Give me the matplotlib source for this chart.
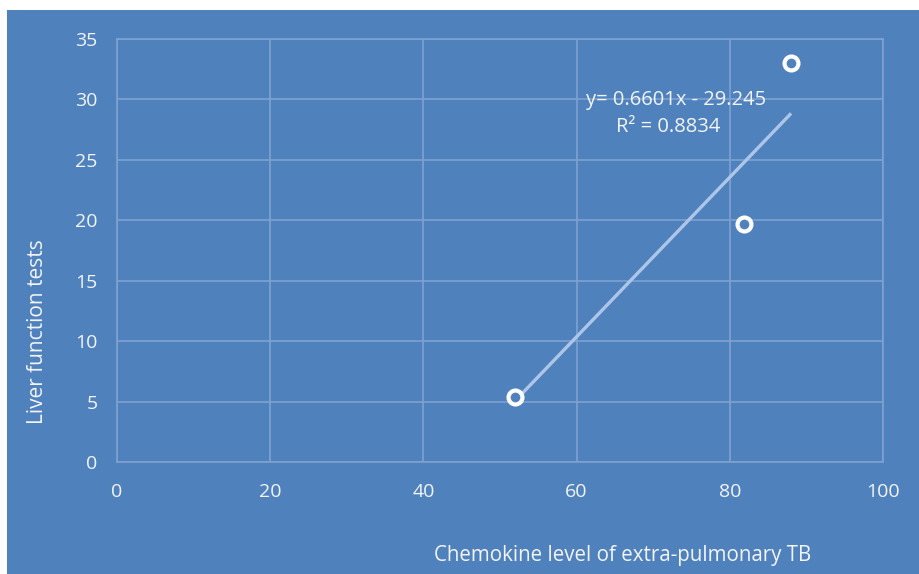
import matplotlib
matplotlib.use("Agg")
import matplotlib.pyplot as plt
from matplotlib.patches import Rectangle
import numpy as np

# Chemokine level vs liver function tests (extra-pulmonary TB)
chemokine = [52.0, 81.8, 88.0]
liver_tests = [5.4, 19.7, 33.0]
slope = 0.6601
intercept = -29.245
r_squared = 0.8834

x_ticks = [0, 20, 40, 60, 80, 100]
y_ticks = [0, 5, 10, 15, 20, 25, 30, 35]

bg = "#4F81BD"
grid_c = "#7FA2D2"
txt_c = "#F2F4F8"
font = ["Open Sans", "DejaVu Sans"]

fig = plt.figure(figsize=(9.2, 5.74), dpi=100)
fig.patch.set_facecolor("white")
fig.add_artist(Rectangle((7 / 920, 0), 1 - 7 / 920, 1 - 10 / 574,
                         transform=fig.transFigure, facecolor=bg,
                         edgecolor="none", zorder=0))

ax = fig.add_axes([117 / 920, (574 - 462) / 574, 766 / 920, 423 / 574])
ax.set_facecolor(bg)
ax.set_xlim(0, 100)
ax.set_ylim(0, 35)
ax.set_xticks(x_ticks)
ax.set_yticks(y_ticks)
ax.grid(True, color=grid_c, linewidth=1.2)
ax.set_axisbelow(True)
for s in ax.spines.values():
    s.set_color(grid_c)
    s.set_linewidth(1.2)
ax.tick_params(length=0, colors=txt_c, labelsize=14)
ax.tick_params(axis="x", pad=15)
ax.tick_params(axis="y", pad=14)
for lab in ax.get_xticklabels() + ax.get_yticklabels():
    lab.set_family(font)

# Linear trendline over the data range
xs = np.array([min(chemokine), max(chemokine)])
ax.plot(xs, slope * xs + intercept, color="#ADC6E8", linewidth=2.4,
        solid_capstyle="butt", zorder=2)

ax.plot(chemokine, liver_tests, linestyle="none", marker="o", markersize=10,
        markerfacecolor=bg, markeredgecolor="white", markeredgewidth=3,
        zorder=3)

fig.text(676 / 920, 1 - 100 / 574, f"y= {slope}x - {abs(intercept)}",
         color=txt_c, fontsize=14.5, ha="center", va="center", family=font)
fig.text(668 / 920, 1 - 127 / 574, f"R² = {r_squared}", color=txt_c,
         fontsize=14.5, ha="center", va="center", family=font)

fig.text(623 / 920, 1 - 556 / 574, "Chemokine level of extra-pulmonary TB",
         color=txt_c, fontsize=14.8, ha="center", va="center", family=font)
fig.text(38 / 920, 1 - 332 / 574, "Liver function tests", color=txt_c,
         fontsize=15, ha="center", va="center", rotation=90, family=font)

fig.savefig("out.png", dpi=100, facecolor=fig.get_facecolor())
